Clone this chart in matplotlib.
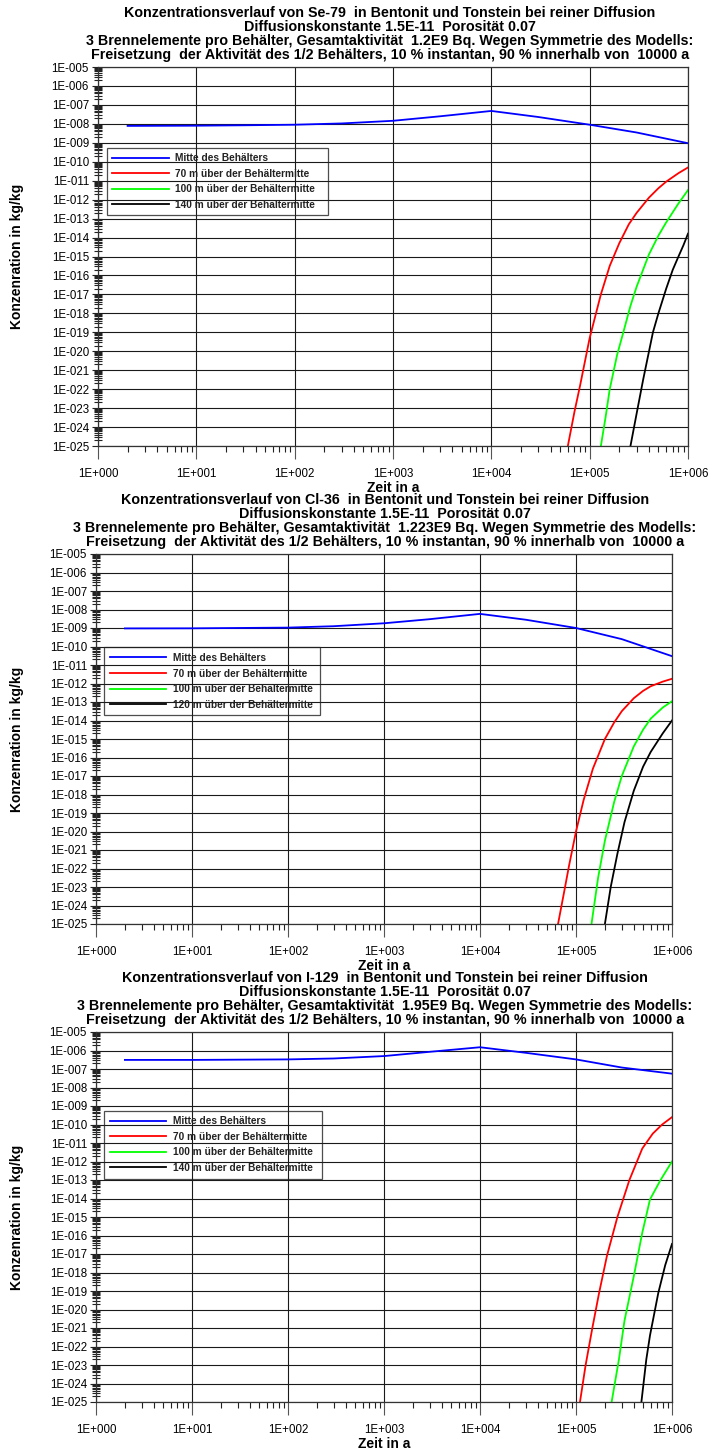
import math
import matplotlib
matplotlib.use("Agg")
import matplotlib.pyplot as plt
from matplotlib.ticker import FixedLocator, NullFormatter, FuncFormatter

plt.rcParams["font.family"] = ["Liberation Sans", "DejaVu Sans"]

# ------------------------------------------------------------------ data
colors = ["#0000ff", "#ff0000", "#00ff00", "#000000"]

labels_se = ["Mitte des Behälters", "70 m über der Behältermitte",
             "100 m über der Behältermitte", "140 m über der Behältermitte"]
labels_cl = ["Mitte des Behälters", "70 m über der Behältermitte",
             "100 m über der Behältermitte", "120 m über der Behältermitte"]
labels_i = labels_se

titles_se = ["Konzentrationsverlauf von Se-79  in Bentonit und Tonstein bei reiner Diffusion",
             "Diffusionskonstante 1.5E-11  Porosität 0.07",
             "3 Brennelemente pro Behälter, Gesamtaktivität  1.2E9 Bq. Wegen Symmetrie des Modells:",
             "Freisetzung  der Aktivität des 1/2 Behälters, 10 % instantan, 90 % innerhalb von  10000 a"]
titles_cl = ["Konzentrationsverlauf von Cl-36  in Bentonit und Tonstein bei reiner Diffusion",
             "Diffusionskonstante 1.5E-11  Porosität 0.07",
             "3 Brennelemente pro Behälter, Gesamtaktivität  1.223E9 Bq. Wegen Symmetrie des Modells:",
             "Freisetzung  der Aktivität des 1/2 Behälters, 10 % instantan, 90 % innerhalb von  10000 a"]
titles_i = ["Konzentrationsverlauf von I-129  in Bentonit und Tonstein bei reiner Diffusion",
            "Diffusionskonstante 1.5E-11  Porosität 0.07",
            "3 Brennelemente pro Behälter, Gesamtaktivität  1.95E9 Bq. Wegen Symmetrie des Modells:",
            "Freisetzung  der Aktivität des 1/2 Behälters, 10 % instantan, 90 % innerhalb von  10000 a"]

x_label = "Zeit in a"
y_label = "Konzenration in kg/kg"

# Se-79
se_mid_t = [2, 10, 30, 100, 300, 1000, 3000, 10000, 30000, 100000, 300000, 1000000]
se_mid_c = [7.8e-9, 8.0e-9, 8.4e-9, 9.0e-9, 1.05e-8, 1.45e-8, 2.5e-8, 4.8e-8, 2.3e-8, 9.0e-9, 3.5e-9, 9.5e-10]
se_70_t = [6.0e4, 7.0e4, 8.0e4, 1.0e5, 1.3e5, 1.6e5, 2.0e5, 2.5e5, 3.0e5, 4.0e5, 5.0e5, 6.0e5, 8.0e5, 1.0e6]
se_70_c = [1.0e-25, 6.3e-24, 1.6e-22, 5.0e-20, 1.0e-17, 3.2e-16, 5.0e-15, 5.0e-14, 2.0e-13, 1.26e-12,
           4.0e-12, 8.9e-12, 2.5e-11, 5.0e-11]
se_100_t = [1.3e5, 1.45e5, 1.6e5, 1.9e5, 2.2e5, 2.6e5, 3.0e5, 4.0e5, 5.0e5, 6.0e5, 8.0e5, 1.0e6]
se_100_c = [1.0e-25, 3.2e-24, 1.0e-22, 6.3e-21, 1.0e-19, 2.5e-18, 2.5e-17, 1.26e-15, 1.26e-14, 6.3e-14,
            6.3e-13, 3.2e-12]
se_140_t = [2.6e5, 3.0e5, 3.5e5, 4.4e5, 5.0e5, 6.0e5, 7.0e5, 8.0e5, 9.0e5, 1.0e6]
se_140_c = [1.0e-25, 5.0e-24, 3.2e-22, 1.0e-19, 1.0e-18, 2.0e-17, 2.0e-16, 1.0e-15, 4.0e-15, 1.6e-14]

# Cl-36
cl_mid_t = [2, 10, 100, 300, 1000, 3000, 10000, 30000, 100000, 300000, 1000000]
cl_mid_c = [9.5e-10, 9.6e-10, 1.05e-9, 1.25e-9, 1.8e-9, 3.0e-9, 5.8e-9, 2.8e-9, 1.0e-9, 2.5e-10, 3.0e-11]
cl_70_t = [6.5e4, 7.5e4, 8.5e4, 1.0e5, 1.2e5, 1.5e5, 2.0e5, 2.5e5, 3.0e5, 4.0e5, 5.0e5, 6.0e5, 8.0e5, 1.0e6]
cl_70_c = [1.0e-25, 5.0e-24, 1.6e-22, 1.0e-20, 5.0e-19, 2.5e-17, 1.0e-15, 7.9e-15, 3.2e-14, 1.6e-13,
           4.0e-13, 7.1e-13, 1.26e-12, 1.8e-12]
cl_100_t = [1.45e5, 1.7e5, 2.0e5, 2.5e5, 3.0e5, 4.0e5, 5.0e5, 6.0e5, 8.0e5, 1.0e6]
cl_100_c = [1.0e-25, 3.2e-23, 3.2e-21, 4.0e-19, 1.0e-17, 4.0e-16, 3.2e-15, 1.26e-14, 5.0e-14, 1.1e-13]
cl_120_t = [2.0e5, 2.3e5, 2.7e5, 3.2e5, 4.0e5, 5.0e5, 6.0e5, 8.0e5, 1.0e6]
cl_120_c = [1.0e-25, 1.0e-23, 6.3e-22, 3.2e-20, 1.6e-18, 3.2e-17, 2.0e-16, 2.0e-15, 1.0e-14]

# I-129
i_mid_t = [2, 10, 100, 300, 1000, 3000, 10000, 30000, 100000, 300000, 1000000]
i_mid_c = [3.1e-7, 3.1e-7, 3.3e-7, 3.7e-7, 5.0e-7, 8.5e-7, 1.5e-6, 7.5e-7, 3.3e-7, 1.2e-7, 5.6e-8]
i_70_t = [1.1e5, 1.26e5, 1.48e5, 1.74e5, 2.1e5, 2.7e5, 3.6e5, 4.9e5, 6.3e5, 7.9e5, 1.0e6]
i_70_c = [1.0e-25, 1.0e-23, 1.0e-21, 7.9e-20, 7.9e-18, 1.0e-15, 1.0e-13, 5.0e-12, 3.2e-11, 1.0e-10, 2.5e-10]
i_100_t = [2.35e5, 2.8e5, 3.2e5, 4.0e5, 4.9e5, 5.9e5, 7.6e5, 1.0e6]
i_100_c = [1.0e-25, 2.0e-23, 2.5e-21, 6.3e-19, 1.4e-16, 8.9e-15, 1.0e-13, 1.0e-12]
i_140_t = [4.8e5, 5.4e5, 5.9e5, 7.2e5, 8.5e5, 1.0e6]
i_140_c = [1.0e-25, 2.0e-23, 4.0e-22, 7.9e-20, 2.5e-18, 3.5e-17]

x_decades = [0, 1, 2, 3, 4, 5, 6]
y_decades = list(range(-25, -4))

# ------------------------------------------------------------------ figure
W, H = 708, 1452
fig = plt.figure(figsize=(W / 100, H / 100), dpi=100)
fig.patch.set_facecolor("white")


def fx(px):
    return px / W


def fy(py):
    return 1 - py / H


def sci_label(v, pos):
    return "1E%+04d" % round(math.log10(v))


def panel(box, title_x, titles, series, labels, legend_box):
    left, top, right, bottom = box
    ax = fig.add_axes([fx(left), fy(bottom), fx(right - left), (bottom - top) / H])
    ax.set_xscale("log")
    ax.set_yscale("log")
    ax.set_xlim(10.0 ** x_decades[0], 10.0 ** x_decades[-1])
    ax.set_ylim(10.0 ** y_decades[0], 10.0 ** y_decades[-1])

    ax.xaxis.set_major_locator(FixedLocator([10.0 ** d for d in x_decades]))
    ax.yaxis.set_major_locator(FixedLocator([10.0 ** d for d in y_decades]))
    ax.xaxis.set_minor_locator(FixedLocator([m * 10.0 ** d for d in x_decades[:-1] for m in range(2, 10)]))
    ax.yaxis.set_minor_locator(FixedLocator([m * 10.0 ** d for d in y_decades[:-1] for m in range(2, 10)]))
    ax.xaxis.set_major_formatter(FuncFormatter(sci_label))
    ax.yaxis.set_major_formatter(FuncFormatter(sci_label))
    ax.xaxis.set_minor_formatter(NullFormatter())
    ax.yaxis.set_minor_formatter(NullFormatter())

    ax.tick_params(axis="x", which="major", direction="out", length=9.4, width=0.8, pad=6.5,
                   labelsize=8.3, color="#555555")
    ax.tick_params(axis="x", which="minor", direction="out", length=4.5, width=0.8, color="#222222")
    ax.tick_params(axis="y", which="major", direction="out", length=4.0, width=0.8, pad=2.5,
                   labelsize=8.3, color="#222222")
    ax.tick_params(axis="y", which="minor", direction="inout", length=6, width=0.8, color="#222222")

    ax.grid(True, which="major", color="#1a1a1a", linewidth=0.8)
    ax.set_axisbelow(True)
    for s in ax.spines.values():
        s.set_color("#333333")
        s.set_linewidth(0.9)

    handles = []
    for (t, c), col in zip(series, colors):
        h, = ax.plot(t, c, color=col, linewidth=1.3, solid_joinstyle="round")
        handles.append(h)

    x0, y0, w, h = legend_box
    leg = ax.legend(handles, labels, loc="upper left", bbox_to_anchor=(x0, y0, w, h), mode="expand",
                    borderaxespad=0, frameon=True, fancybox=False, handlelength=5.6,
                    handletextpad=0.6, labelspacing=0.55, borderpad=0.55,
                    prop={"weight": "bold", "size": 7.3})
    fr = leg.get_frame()
    fr.set_facecolor("none")
    fr.set_edgecolor("#222222")
    fr.set_linewidth(0.9)
    for txt in leg.get_texts():
        txt.set_color("#222222")

    for i, line in enumerate(titles):
        fig.text(fx(title_x), fy(top - 54 + 14 * i), line, ha="center", va="center",
                 fontsize=10.3, fontweight="bold")
    fig.text(fx((left + right) / 2), fy(bottom + 42), x_label, ha="center", va="center",
             fontsize=10, fontweight="bold")
    fig.text(fx(17), fy((top + bottom) / 2), y_label, ha="center", va="center",
             rotation=90, fontsize=10, fontweight="bold")
    return ax


panel((98, 67, 688, 446), 390, titles_se,
      [(se_mid_t, se_mid_c), (se_70_t, se_70_c), (se_100_t, se_100_c), (se_140_t, se_140_c)],
      labels_se, (0.015, 0.0, 0.375, 0.7875))
panel((96, 554, 672, 924), 385, titles_cl,
      [(cl_mid_t, cl_mid_c), (cl_70_t, cl_70_c), (cl_100_t, cl_100_c), (cl_120_t, cl_120_c)],
      labels_cl, (0.014, 0.0, 0.375, 0.7475))
panel((96, 1032, 672, 1402), 385, titles_i,
      [(i_mid_t, i_mid_c), (i_70_t, i_70_c), (i_100_t, i_100_c), (i_140_t, i_140_c)],
      labels_i, (0.014, 0.0, 0.378, 0.7875))

fig.savefig("out.png", dpi=100, facecolor="white")
